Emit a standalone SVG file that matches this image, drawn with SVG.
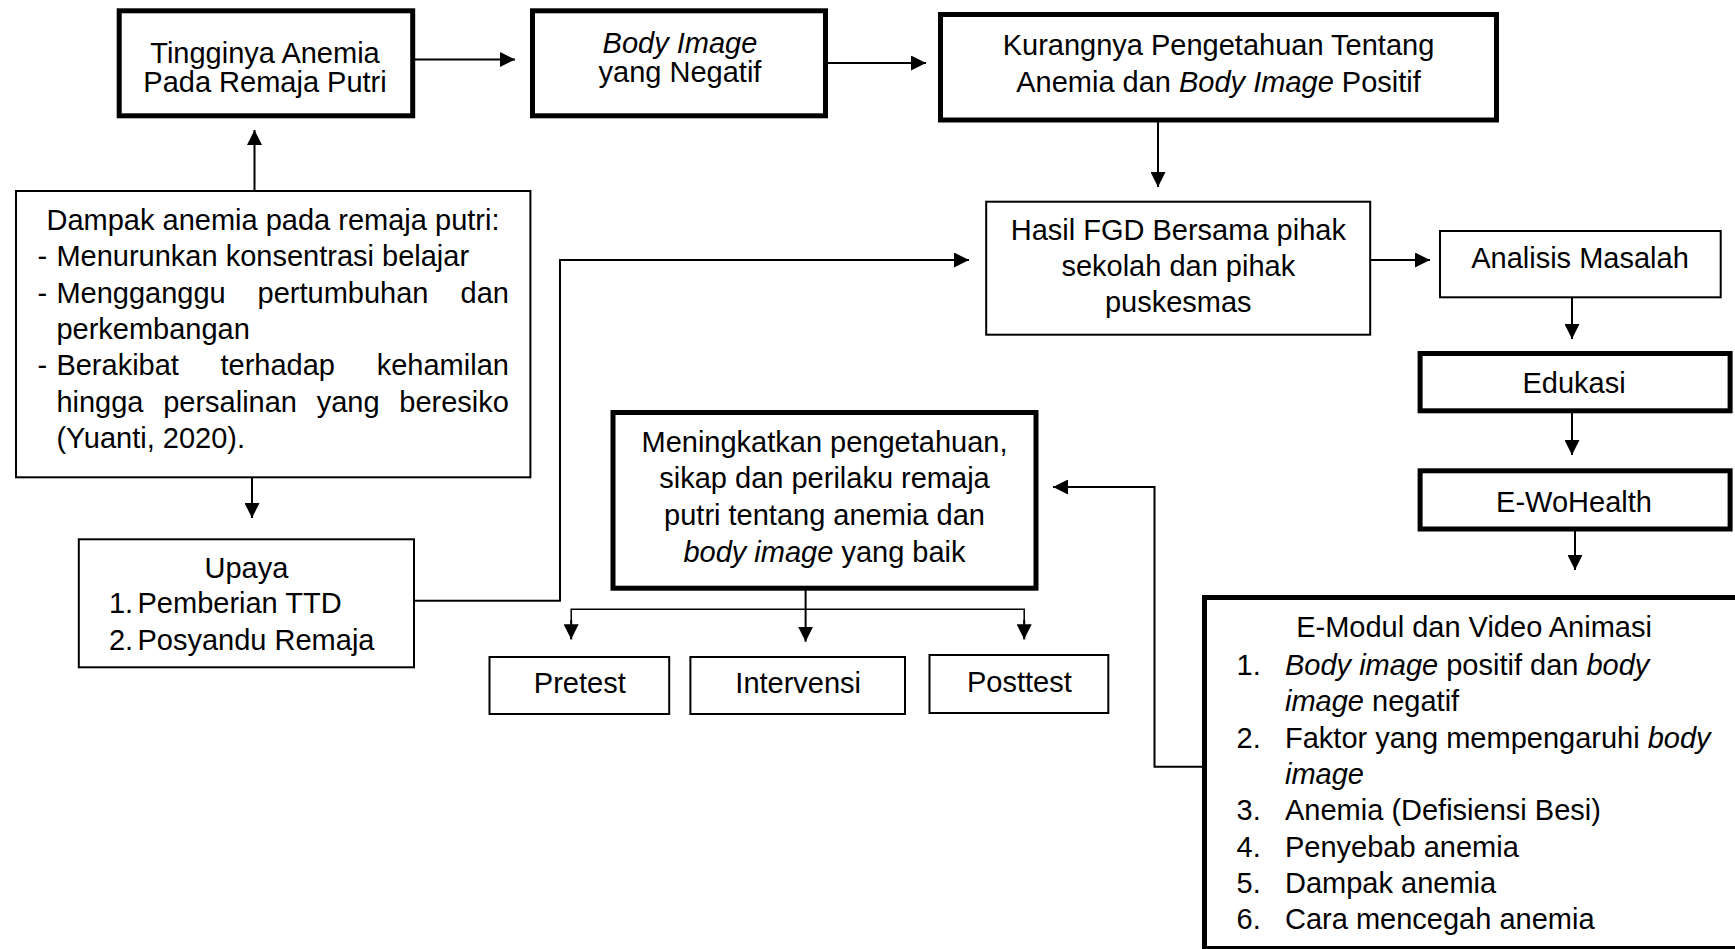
<svg xmlns="http://www.w3.org/2000/svg" width="1735" height="949" viewBox="0 0 1735 949">
<style>
text{font-family:"Liberation Sans",Arial,sans-serif;font-size:29px;fill:#000}
.c{text-anchor:middle}
.e{text-anchor:end}
.i{font-style:italic}
.thick{fill:#fff;stroke:#000;stroke-width:5}
.thin{fill:#fff;stroke:#000;stroke-width:2}
.ln{fill:none;stroke:#000;stroke-width:2}
.arr{fill:none;stroke:#000;stroke-width:2;marker-end:url(#ah)}
</style>
<defs>
<marker id="ah" markerWidth="15" markerHeight="15" refX="15" refY="7.5" orient="auto" markerUnits="userSpaceOnUse"><path d="M0,0 L15,7.5 L0,15 z" fill="#000"/></marker>
</defs>
<rect width="1735" height="949" fill="#fff"/>
<g id="connectors">
<line class="arr" x1="415" y1="59.5" x2="515" y2="59.5"/>
<line class="arr" x1="828" y1="63" x2="926" y2="63"/>
<line class="arr" x1="1158" y1="122" x2="1158" y2="187"/>
<line class="arr" x1="1371" y1="260" x2="1430" y2="260"/>
<line class="arr" x1="1572" y1="298" x2="1572" y2="339"/>
<line class="arr" x1="1572" y1="413" x2="1572" y2="455"/>
<line class="arr" x1="1575" y1="531" x2="1575" y2="570"/>
<line class="arr" x1="254.5" y1="190" x2="254.5" y2="130"/>
<line class="arr" x1="252" y1="478" x2="252" y2="518"/>
<polyline class="arr" points="415,600.7 560,600.7 560,260 969,260"/>
<polyline class="arr" points="1202,766.7 1154.5,766.7 1154.5,487 1053,487"/>
<line class="arr" x1="805.6" y1="590" x2="805.6" y2="641.7"/>
<polyline fill="none" stroke="#000" stroke-width="1.5" points="571.2,639.3 571.2,609.3 1024.2,609.3 1024.2,639.3"/>
<line class="arr" x1="571.2" y1="620" x2="571.2" y2="639.3"/>
<line class="arr" x1="1024.2" y1="620" x2="1024.2" y2="639.3"/>
</g>
<g id="n-tingginya">
<rect class="thick" x="119.2" y="10.8" width="293.5" height="105"/>
<text class="c" x="265" y="62.5">Tingginya Anemia</text>
<text class="c" x="265" y="91.5">Pada Remaja Putri</text>
</g>
<g id="n-bodyimage">
<rect class="thick" x="532.5" y="10.8" width="293" height="105"/>
<text class="c i" x="680" y="53">Body Image</text>
<text class="c" x="680" y="82">yang Negatif</text>
</g>
<g id="n-kurangnya">
<rect class="thick" x="940.5" y="14.5" width="556" height="105.5"/>
<text class="c" x="1218.5" y="55">Kurangnya Pengetahuan Tentang</text>
<text class="c" x="1218.5" y="91.7">Anemia dan <tspan class="i">Body Image</tspan> Positif</text>
</g>
<g id="n-fgd">
<rect class="thin" x="986.2" y="201.7" width="384" height="133"/>
<text class="c" x="1178.3" y="240">Hasil FGD Bersama pihak</text>
<text class="c" x="1178.3" y="276">sekolah dan pihak</text>
<text class="c" x="1178.3" y="311.7">puskesmas</text>
</g>
<g id="n-analisis">
<rect class="thin" x="1440" y="231" width="280.7" height="66.3" stroke-width="2.5"/>
<text class="c" x="1580" y="268.3">Analisis Masalah</text>
</g>
<g id="n-edukasi">
<rect class="thick" x="1420.1" y="353.5" width="310" height="57.3"/>
<text class="c" x="1574" y="393.3">Edukasi</text>
</g>
<g id="n-ewohealth">
<rect class="thick" x="1420.1" y="470.8" width="310" height="58.2"/>
<text class="c" x="1574" y="511.7">E-WoHealth</text>
</g>
<g id="n-emodul">
<rect class="thick" x="1204.5" y="597.5" width="600" height="351"/>
<text class="c" x="1474" y="636.7">E-Modul dan Video Animasi</text>
<text x="1236.6" y="675">1.</text>
<text x="1285" y="675"><tspan class="i">Body image</tspan> positif dan <tspan class="i">body</tspan></text>
<text x="1285" y="711.3"><tspan class="i">image</tspan> negatif</text>
<text x="1236.6" y="747.6">2.</text>
<text x="1285" y="747.6">Faktor yang mempengaruhi <tspan class="i">body</tspan></text>
<text class="i" x="1285" y="783.9">image</text>
<text x="1236.6" y="820.2">3.</text>
<text x="1285" y="820.2">Anemia (Defisiensi Besi)</text>
<text x="1236.6" y="856.5">4.</text>
<text x="1285" y="856.5">Penyebab anemia</text>
<text x="1236.6" y="892.8">5.</text>
<text x="1285" y="892.8">Dampak anemia</text>
<text x="1236.6" y="929.1">6.</text>
<text x="1285" y="929.1">Cara mencegah anemia</text>
</g>
<g id="n-dampak">
<rect class="thin" x="16" y="191" width="514.4" height="286.3"/>
<text class="c" x="273" y="230">Dampak anemia pada remaja putri:</text>
<text x="37.5" y="266">-</text>
<text x="56.4" y="266">Menurunkan konsentrasi belajar</text>
<text x="37.5" y="302.7">-</text>
<text x="56.4" y="302.7">Mengganggu</text>
<text x="257.6" y="302.7">pertumbuhan</text>
<text class="e" x="508.9" y="302.7">dan</text>
<text x="56.4" y="339.3">perkembangan</text>
<text x="37.5" y="375">-</text>
<text x="56.4" y="375">Berakibat</text>
<text x="220.5" y="375">terhadap</text>
<text class="e" x="508.9" y="375">kehamilan</text>
<text x="56.4" y="411.7">hingga</text>
<text x="163.2" y="411.7">persalinan</text>
<text x="316.7" y="411.7">yang</text>
<text class="e" x="508.9" y="411.7">beresiko</text>
<text x="56.4" y="448.3">(Yuanti, 2020).</text>
</g>
<g id="n-upaya">
<rect class="thin" x="78.8" y="539.3" width="335.2" height="128"/>
<text class="c" x="246.4" y="578.3">Upaya</text>
<text x="108.9" y="613.3">1.</text>
<text x="137.5" y="613.3">Pemberian TTD</text>
<text x="108.9" y="650">2.</text>
<text x="137.5" y="650">Posyandu Remaja</text>
</g>
<g id="n-meningkatkan">
<rect class="thick" x="613" y="412.5" width="423" height="175.7"/>
<text class="c" x="824.5" y="451.7">Meningkatkan pengetahuan,</text>
<text class="c" x="824.5" y="488.3">sikap dan perilaku remaja</text>
<text class="c" x="824.5" y="525">putri tentang anemia dan</text>
<text class="c" x="824.5" y="561.7"><tspan class="i">body image</tspan> yang baik</text>
</g>
<g id="n-pretest">
<rect class="thin" x="489.5" y="657" width="179.7" height="57"/>
<text class="c" x="579.8" y="693.3">Pretest</text>
</g>
<g id="n-intervensi">
<rect class="thin" x="690.4" y="657" width="214.6" height="57"/>
<text class="c" x="798.2" y="693.3">Intervensi</text>
</g>
<g id="n-posttest">
<rect class="thin" x="929.5" y="655" width="178.8" height="58"/>
<text class="c" x="1019.4" y="691.7">Posttest</text>
</g>
</svg>
